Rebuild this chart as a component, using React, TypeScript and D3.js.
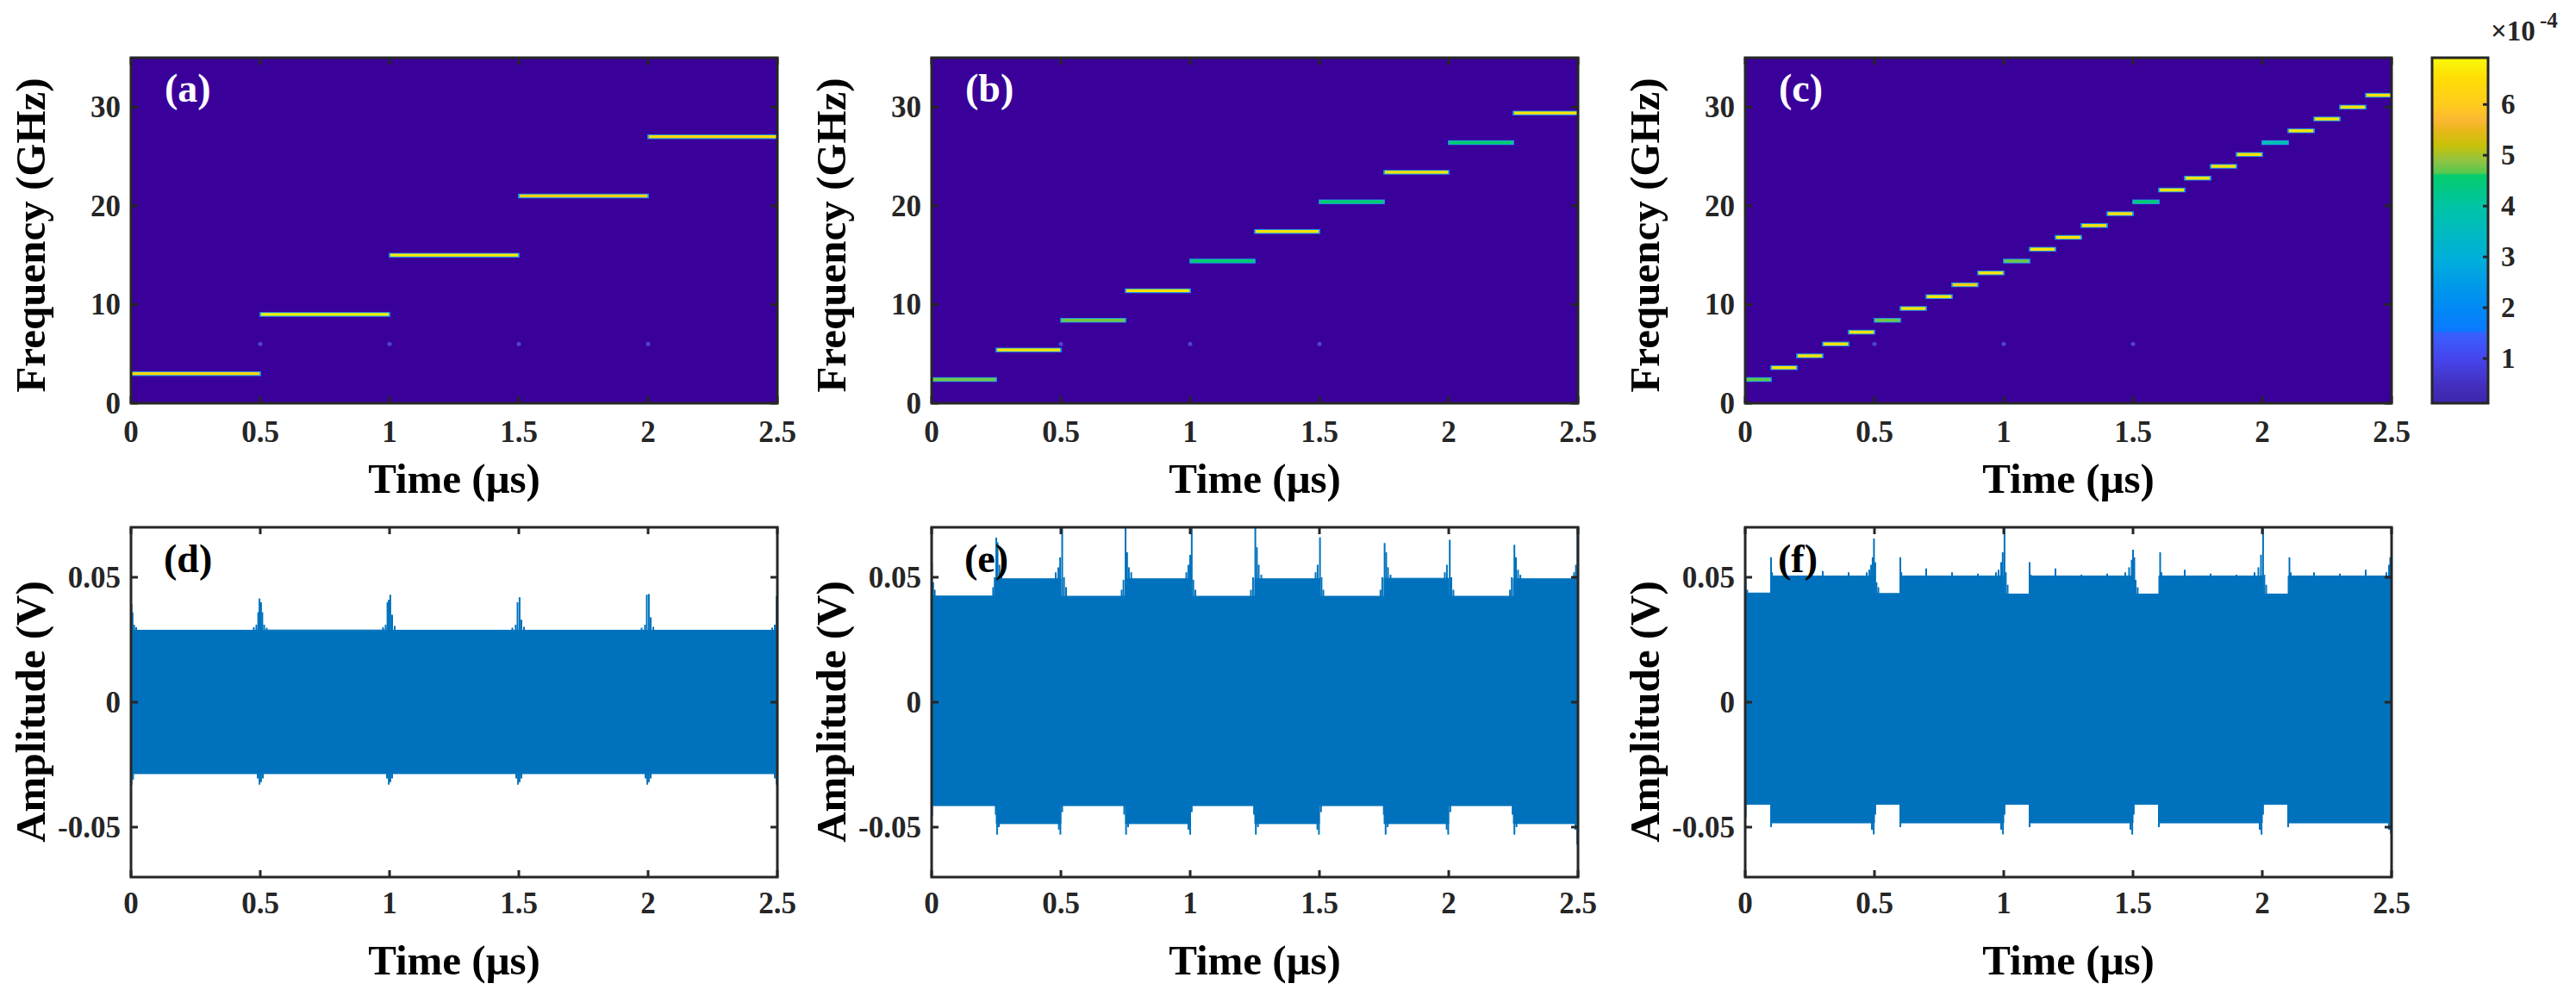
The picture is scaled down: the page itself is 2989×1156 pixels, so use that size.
import React from "react";
import * as d3 from "d3";

const W = 2989;
const H = 1156;
const FONT = "'Liberation Serif', 'Times New Roman', serif";
const INK = "#262626";
const WAVE = "#0072bd";
const SPEC_BG = "#3a009a";

// ---------- axis ticks ----------
const timeTicks = [0, 0.5, 1, 1.5, 2, 2.5];
const timeTickLabels = ["0", "0.5", "1", "1.5", "2", "2.5"];
const freqTicks = [0, 10, 20, 30];
const freqTickLabels = ["0", "10", "20", "30"];
const ampTicks = [-0.05, 0, 0.05];
const ampTickLabels = ["-0.05", "0", "0.05"];
const cbTicks = [1, 2, 3, 4, 5, 6];
const cbTickLabels = ["1", "2", "3", "4", "5", "6"];

// ---------- colormap (x1e-4) ----------
const cmapStops = [0.12, 0.5, 1.0, 1.5, 1.56, 2.2, 3.0, 4.0, 4.62, 4.66, 4.9, 5.2, 5.5, 5.7, 6.0, 6.5, 6.92];
const cmapColors = [
  "#3e26a8", "#4430c0", "#4646ec", "#3a60ff", "#0a7aff", "#0090f0", "#00b0da", "#00c4a6",
  "#00cc6a", "#52c84c", "#8cc23e", "#c6c000", "#e6b410", "#fbb42c", "#ffca18", "#ffdc00", "#f8f80c",
];
const cbMin = 0.12;
const cbMax = 6.92;

// ---------- spectrogram steps ----------
const aStart = [0, 0.5, 1, 1.5, 2];
const aDur = 0.5;
const aFreq = [3, 9, 15, 21, 27];
const aPower = [6.3, 6.8, 6.7, 6.1, 6.4];
const aDotT = [0.5, 1, 1.5, 2];
const aDotF = [6, 6, 6, 6];

const bStart = [0, 0.25, 0.5, 0.75, 1, 1.25, 1.5, 1.75, 2, 2.25];
const bDur = 0.25;
const bFreq = [2.4, 5.4, 8.4, 11.4, 14.4, 17.4, 20.4, 23.4, 26.4, 29.4];
const bPower = [4.8, 6.6, 4.8, 6.6, 4.6, 6.6, 4.6, 6.6, 4.6, 6.6];
const bDotT = [0.5, 1, 1.5];
const bDotF = [6, 6, 6];

const cStart = [0, 0.1, 0.2, 0.3, 0.4, 0.5, 0.6, 0.7, 0.8, 0.9, 1.0, 1.1, 1.2, 1.3, 1.4, 1.5, 1.6, 1.7, 1.8, 1.9, 2.0, 2.1, 2.2, 2.3, 2.4];
const cDur = 0.1;
const cFreq = [2.4, 3.6, 4.8, 6.0, 7.2, 8.4, 9.6, 10.8, 12.0, 13.2, 14.4, 15.6, 16.8, 18.0, 19.2, 20.4, 21.6, 22.8, 24.0, 25.2, 26.4, 27.6, 28.8, 30.0, 31.2];
const cPower = [4.7, 6.6, 6.6, 6.6, 6.6, 4.8, 6.6, 6.6, 6.2, 6.6, 4.8, 6.6, 6.6, 6.6, 6.6, 4.6, 6.6, 6.6, 6.6, 6.6, 3.8, 6.6, 6.6, 6.6, 6.6];
const cDotT = [0.5, 1, 1.5];
const cDotF = [6, 6, 6];

// ---------- waveform envelopes (V) ----------
const dBounds = [0, 0.5, 1, 1.5, 2, 2.5];
const dUpper = [0.0288, 0.0289, 0.0288, 0.0288, 0.0288];
const dLower = [-0.0286, -0.0286, -0.0286, -0.0286, -0.0286];
const dSpikesUp = [
  [0.002, 0.0392], [0.006, 0.036], [0.012, 0.031], [0.02, 0.030],
  [0.475, 0.030], [0.485, 0.031], [0.492, 0.036], [0.497, 0.0415], [0.503, 0.040], [0.508, 0.036], [0.515, 0.031], [0.525, 0.0298],
  [0.975, 0.030], [0.985, 0.031], [0.992, 0.040], [0.997, 0.041], [1.003, 0.043], [1.01, 0.035], [1.02, 0.0305],
  [1.475, 0.0298], [1.488, 0.031], [1.495, 0.040], [1.503, 0.042], [1.51, 0.033], [1.52, 0.0302],
  [1.975, 0.0298], [1.988, 0.031], [1.995, 0.043], [2.003, 0.0433], [2.01, 0.034], [2.02, 0.0302],
  [2.48, 0.0298], [2.49, 0.031], [2.497, 0.0424],
];
const dSpikesDn = [
  [0.002, -0.033], [0.008, -0.031],
  [0.49, -0.0305], [0.497, -0.033], [0.503, -0.032], [0.51, -0.0305],
  [0.99, -0.0305], [0.997, -0.033], [1.003, -0.032], [1.01, -0.0305],
  [1.49, -0.0305], [1.497, -0.033], [1.503, -0.032], [1.51, -0.0305],
  [1.99, -0.0305], [1.997, -0.033], [2.003, -0.032], [2.01, -0.0305],
  [2.49, -0.0305], [2.497, -0.033],
];

const eBounds = [0, 0.25, 0.5, 0.75, 1, 1.25, 1.5, 1.75, 2, 2.25, 2.5];
const eUpper = [0.0425, 0.0494, 0.0424, 0.0494, 0.0424, 0.0494, 0.0424, 0.0496, 0.0424, 0.0494];
const eLower = [-0.0414, -0.0486, -0.0414, -0.0486, -0.0414, -0.0486, -0.0414, -0.0486, -0.0414, -0.0486];
const eSpikesUp = [
  [0.001, 0.0559], [0.006, 0.048], [0.012, 0.045],
  [0.238, 0.046], [0.244, 0.05], [0.25, 0.0659], [0.255, 0.064], [0.262, 0.055], [0.27, 0.052],
  [0.48, 0.052], [0.49, 0.054], [0.497, 0.058], [0.505, 0.07], [0.512, 0.05], [0.52, 0.046],
  [0.735, 0.045], [0.742, 0.049], [0.75, 0.07], [0.756, 0.06], [0.763, 0.054], [0.772, 0.052],
  [0.985, 0.052], [0.993, 0.055], [1.0, 0.059], [1.006, 0.07], [1.012, 0.049], [1.02, 0.045],
  [1.235, 0.045], [1.243, 0.05], [1.252, 0.07], [1.258, 0.062], [1.265, 0.055], [1.275, 0.051],
  [1.485, 0.052], [1.493, 0.055], [1.502, 0.066], [1.508, 0.05], [1.515, 0.045],
  [1.736, 0.045], [1.743, 0.05], [1.752, 0.0637], [1.758, 0.06], [1.765, 0.054], [1.775, 0.051],
  [1.985, 0.052], [1.993, 0.055], [2.004, 0.065], [2.01, 0.05], [2.018, 0.045],
  [2.237, 0.045], [2.244, 0.05], [2.254, 0.063], [2.26, 0.058], [2.268, 0.053], [2.277, 0.051],
  [2.485, 0.052], [2.492, 0.055], [2.498, 0.0695],
];
const eSpikesDn = [
  [0.002, -0.0454], [0.248, -0.045], [0.253, -0.053], [0.26, -0.05],
  [0.492, -0.051], [0.498, -0.053], [0.505, -0.044],
  [0.745, -0.045], [0.752, -0.053], [0.76, -0.05],
  [0.993, -0.051], [1.0, -0.053], [1.006, -0.044],
  [1.247, -0.045], [1.254, -0.053], [1.262, -0.05],
  [1.492, -0.051], [1.498, -0.053], [1.506, -0.044],
  [1.749, -0.045], [1.756, -0.053], [1.764, -0.05],
  [1.992, -0.051], [1.998, -0.053], [2.006, -0.044],
  [2.247, -0.045], [2.254, -0.053], [2.262, -0.05],
  [2.49, -0.051], [2.497, -0.057],
];

const fBounds = [0, 0.1, 0.5, 0.6, 1, 1.1, 1.5, 1.6, 2, 2.1, 2.5];
const fUpper = [0.0437, 0.0505, 0.0435, 0.0505, 0.0433, 0.0505, 0.0433, 0.0505, 0.0433, 0.0505];
const fLower = [-0.0409, -0.0483, -0.0409, -0.0483, -0.0409, -0.0483, -0.0409, -0.0483, -0.0409, -0.0483];
const fSpikesUp = [
  [0.002, 0.0495], [0.008, 0.045],
  [0.1, 0.058], [0.104, 0.052], [0.3, 0.0525], [0.4, 0.052],
  [0.47, 0.052], [0.48, 0.053], [0.487, 0.055], [0.493, 0.058], [0.498, 0.0655], [0.503, 0.056], [0.508, 0.048], [0.515, 0.046],
  [0.6, 0.058], [0.604, 0.052], [0.7, 0.0535], [0.8, 0.052], [0.9, 0.0515],
  [0.97, 0.052], [0.98, 0.053], [0.99, 0.056], [0.996, 0.06], [1.003, 0.07], [1.008, 0.052], [1.015, 0.047],
  [1.1, 0.056], [1.105, 0.051], [1.2, 0.0535], [1.3, 0.051], [1.4, 0.0515],
  [1.47, 0.052], [1.485, 0.054], [1.495, 0.057], [1.5, 0.061], [1.505, 0.058], [1.51, 0.049], [1.518, 0.046],
  [1.605, 0.06], [1.61, 0.052], [1.7, 0.053], [1.8, 0.0515], [1.9, 0.051],
  [1.97, 0.052], [1.985, 0.054], [1.995, 0.059], [2.003, 0.07], [2.008, 0.051], [2.015, 0.047],
  [2.105, 0.058], [2.11, 0.052], [2.2, 0.052], [2.3, 0.0515], [2.4, 0.053],
  [2.48, 0.052], [2.49, 0.055], [2.495, 0.058], [2.5, 0.065],
];
const fSpikesDn = [
  [0.002, -0.046], [0.1, -0.05],
  [0.49, -0.051], [0.497, -0.0529], [0.503, -0.045], [0.6, -0.05],
  [0.99, -0.051], [0.997, -0.0529], [1.003, -0.045], [1.1, -0.05],
  [1.49, -0.051], [1.497, -0.053], [1.503, -0.045], [1.6, -0.05],
  [1.99, -0.051], [1.997, -0.053], [2.003, -0.045], [2.1, -0.05],
  [2.49, -0.051], [2.497, -0.0525],
];

// ---------- layout ----------
const colLeft = [152, 1081, 2025];
const colRight = [902, 1831, 2775];
const topY0 = 67;
const topY1 = 468;
const botY0 = 612;
const botY1 = 1018;
const cbX0 = 2822;
const cbX1 = 2887;

const cmap = d3
  .scaleLinear<string>()
  .domain(cmapStops)
  .range(cmapColors)
  .interpolate(d3.interpolateRgb)
  .clamp(true);

function Frame({ x0, x1, y0, y1, xScale, yScale, yTicks }: any) {
  const tl = 8;
  return (
    <g>
      {timeTicks.map((t, i) => (
        <g key={"xt" + i}>
          <line x1={xScale(t)} x2={xScale(t)} y1={y1} y2={y1 - tl} stroke={INK} strokeWidth={3} />
          <line x1={xScale(t)} x2={xScale(t)} y1={y0} y2={y0 + tl} stroke={INK} strokeWidth={3} />
        </g>
      ))}
      {yTicks.map((v: number, i: number) => (
        <g key={"yt" + i}>
          <line x1={x0} x2={x0 + tl} y1={yScale(v)} y2={yScale(v)} stroke={INK} strokeWidth={3} />
          <line x1={x1} x2={x1 - tl} y1={yScale(v)} y2={yScale(v)} stroke={INK} strokeWidth={3} />
        </g>
      ))}
      <rect x={x0} y={y0} width={x1 - x0} height={y1 - y0} fill="none" stroke={INK} strokeWidth={3} />
    </g>
  );
}

function AxisText({ x0, x1, y1, xScale, yScale, yTicks, yLabels, yTitle, xLabelDy, titleY, yTitleCenter }: any) {
  return (
    <g fontFamily={FONT} fontWeight="bold" fill={INK}>
      {timeTicks.map((t, i) => (
        <text key={"xl" + i} x={xScale(t)} y={y1 + xLabelDy} fontSize={35} textAnchor="middle">
          {timeTickLabels[i]}
        </text>
      ))}
      {yTicks.map((v: number, i: number) => (
        <text key={"yl" + i} x={x0 - 12} y={yScale(v) + 12} fontSize={35} textAnchor="end">
          {yLabels[i]}
        </text>
      ))}
      <text x={(x0 + x1) / 2} y={titleY} fontSize={49} textAnchor="middle" fill="#000">
        Time (μs)
      </text>
      <text
        transform={`translate(${x0 - 100},${yTitleCenter}) rotate(-90)`}
        fontSize={49}
        textAnchor="middle"
        fill="#000"
      >
        {yTitle}
      </text>
    </g>
  );
}

function SpecPanel({ col, label, starts, dur, freqs, powers, dotT, dotF }: any) {
  const x0 = colLeft[col];
  const x1 = colRight[col];
  const xScale = d3.scaleLinear().domain([0, 2.5]).range([x0, x1]);
  const yScale = d3.scaleLinear().domain([0, 35]).range([topY1, topY0]);
  const clipId = "specclip" + col;
  return (
    <g>
      <defs>
        <clipPath id={clipId}>
          <rect x={x0} y={topY0} width={x1 - x0} height={topY1 - topY0} />
        </clipPath>
      </defs>
      <rect x={x0} y={topY0} width={x1 - x0} height={topY1 - topY0} fill={SPEC_BG} />
      <g clipPath={`url(#${clipId})`}>
        {dotT.map((t: number, i: number) => (
          <circle key={"dot" + i} cx={xScale(t)} cy={yScale(dotF[i])} r={2.5} fill="#4a44d6" />
        ))}
        {starts.map((s: number, i: number) => {
          const xa = xScale(s);
          const xb = xScale(s + dur);
          const y = yScale(freqs[i]);
          return (
            <g key={"st" + i}>
              <line x1={xa - 1} x2={xb + 1} y1={y} y2={y} stroke="#2f78f0" strokeWidth={5.5} />
              <line x1={xa} x2={xb} y1={y} y2={y} stroke="#12b4dc" strokeWidth={4.4} />
              <line x1={xa + 1} x2={xb - 1} y1={y} y2={y} stroke={cmap(powers[i])} strokeWidth={3.4} />
            </g>
          );
        })}
      </g>
      <Frame x0={x0} x1={x1} y0={topY0} y1={topY1} xScale={xScale} yScale={yScale} yTicks={freqTicks} />
      <AxisText
        x0={x0}
        x1={x1}
        y1={topY1}
        xScale={xScale}
        yScale={yScale}
        yTicks={freqTicks}
        yLabels={freqTickLabels}
        yTitle="Frequency (GHz)"
        xLabelDy={45}
        titleY={572}
        yTitleCenter={273}
      />
      <text x={x0 + 39} y={topY0 + 51} fontFamily={FONT} fontWeight="bold" fontSize={46} fill="#ffffff">
        {label}
      </text>
    </g>
  );
}

function WavePanel({ col, label, bounds, upper, lower, spikesUp, spikesDn }: any) {
  const x0 = colLeft[col];
  const x1 = colRight[col];
  const xScale = d3.scaleLinear().domain([0, 2.5]).range([x0, x1]);
  const yScale = d3.scaleLinear().domain([-0.07, 0.07]).range([botY1, botY0]);
  const pts: [number, number][] = [];
  for (let i = 0; i < upper.length; i++) {
    pts.push([bounds[i], upper[i]]);
    pts.push([bounds[i + 1], upper[i]]);
  }
  for (let i = lower.length - 1; i >= 0; i--) {
    pts.push([bounds[i + 1], lower[i]]);
    pts.push([bounds[i], lower[i]]);
  }
  const line = d3
    .line<[number, number]>()
    .x((d) => xScale(d[0]))
    .y((d) => yScale(d[1]));
  const clipId = "waveclip" + col;
  return (
    <g>
      <defs>
        <clipPath id={clipId}>
          <rect x={x0} y={botY0} width={x1 - x0} height={botY1 - botY0} />
        </clipPath>
      </defs>
      <rect x={x0} y={botY0} width={x1 - x0} height={botY1 - botY0} fill="#ffffff" />
      <g clipPath={`url(#${clipId})`}>
        <path d={(line(pts) || "") + "Z"} fill={WAVE} stroke={WAVE} strokeWidth={1} />
        {spikesUp.map((s: number[], i: number) => (
          <line key={"su" + i} x1={xScale(s[0])} x2={xScale(s[0])} y1={yScale(0)} y2={yScale(s[1])} stroke={WAVE} strokeWidth={2} />
        ))}
        {spikesDn.map((s: number[], i: number) => (
          <line key={"sd" + i} x1={xScale(s[0])} x2={xScale(s[0])} y1={yScale(0)} y2={yScale(s[1])} stroke={WAVE} strokeWidth={2} />
        ))}
      </g>
      <Frame x0={x0} x1={x1} y0={botY0} y1={botY1} xScale={xScale} yScale={yScale} yTicks={ampTicks} />
      <AxisText
        x0={x0}
        x1={x1}
        y1={botY1}
        xScale={xScale}
        yScale={yScale}
        yTicks={ampTicks}
        yLabels={ampTickLabels}
        yTitle="Amplitude (V)"
        xLabelDy={42}
        titleY={1131}
        yTitleCenter={826}
      />
      <text x={x0 + 38} y={botY0 + 52} fontFamily={FONT} fontWeight="bold" fontSize={46} fill="#000000">
        {label}
      </text>
    </g>
  );
}

function Colorbar() {
  const yScale = d3.scaleLinear().domain([cbMin, cbMax]).range([topY1, topY0]);
  const n = 400;
  const bands = d3.range(n).map((i) => cbMin + ((i + 0.5) / n) * (cbMax - cbMin));
  const bh = (topY1 - topY0) / n;
  return (
    <g>
      {bands.map((v, i) => (
        <rect key={i} x={cbX0} y={yScale(v) - bh / 2} width={cbX1 - cbX0} height={bh + 0.6} fill={cmap(v)} />
      ))}
      {cbTicks.map((v, i) => (
        <line key={"ct" + i} x1={cbX1} x2={cbX1 - 6} y1={yScale(v)} y2={yScale(v)} stroke={INK} strokeWidth={3} />
      ))}
      <rect x={cbX0} y={topY0} width={cbX1 - cbX0} height={topY1 - topY0} fill="none" stroke={INK} strokeWidth={3} />
      <g fontFamily={FONT} fontWeight="bold" fill={INK}>
        {cbTicks.map((v, i) => (
          <text key={"cl" + i} x={cbX1 + 15} y={yScale(v) + 11} fontSize={33}>
            {cbTickLabels[i]}
          </text>
        ))}
        <text x={2890} y={47} fontSize={33}>
          ×10
        </text>
        <text x={2947} y={32} fontSize={25}>
          -4
        </text>
      </g>
    </g>
  );
}

export default function App() {
  return (
    <svg
      width={W}
      height={H}
      viewBox={`0 0 ${W} ${H}`}
      style={{ position: "absolute", left: 0, top: 0, background: "#ffffff" }}
    >
      <rect x={0} y={0} width={W} height={H} fill="#ffffff" />
      <SpecPanel col={0} label="(a)" starts={aStart} dur={aDur} freqs={aFreq} powers={aPower} dotT={aDotT} dotF={aDotF} />
      <SpecPanel col={1} label="(b)" starts={bStart} dur={bDur} freqs={bFreq} powers={bPower} dotT={bDotT} dotF={bDotF} />
      <SpecPanel col={2} label="(c)" starts={cStart} dur={cDur} freqs={cFreq} powers={cPower} dotT={cDotT} dotF={cDotF} />
      <Colorbar />
      <WavePanel col={0} label="(d)" bounds={dBounds} upper={dUpper} lower={dLower} spikesUp={dSpikesUp} spikesDn={dSpikesDn} />
      <WavePanel col={1} label="(e)" bounds={eBounds} upper={eUpper} lower={eLower} spikesUp={eSpikesUp} spikesDn={eSpikesDn} />
      <WavePanel col={2} label="(f)" bounds={fBounds} upper={fUpper} lower={fLower} spikesUp={fSpikesUp} spikesDn={fSpikesDn} />
    </svg>
  );
}
